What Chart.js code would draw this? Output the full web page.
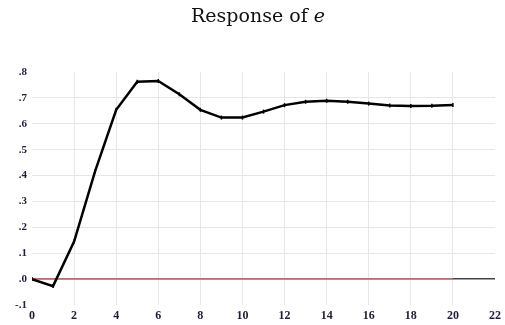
<!DOCTYPE html>
<html>
<head>
<meta charset="utf-8">
<script src="https://cdn.jsdelivr.net/npm/chart.js@4"></script>
<style>
  html, body { margin: 0; padding: 0; background: #ffffff; }
  #wrap { width: 505px; height: 325px; }
</style>
</head>
<body>
<div id="wrap"><canvas id="chart-area"></canvas></div>
<script>
var periods = [0, 1, 2, 3, 4, 5, 6, 7, 8, 9, 10, 11, 12, 13, 14, 15, 16, 17, 18, 19, 20];
var response = [0, -0.027, 0.145, 0.417, 0.654, 0.762, 0.765, 0.714, 0.654, 0.624, 0.624,
                0.647, 0.672, 0.685, 0.689, 0.685, 0.678, 0.671, 0.669, 0.670, 0.673];
var zeroLine = [0, 0];
var titleText = 'Response of ';
var titleVar = 'e';

var labelColor = '#1e1e38';
var xTickFont = { family: 'Liberation Serif', size: 12, weight: 'bold' };
var yTickFont = { family: 'Liberation Serif', size: 11, weight: 'bold' };

// response points as x/y pairs
var points = [];
for (var i = 0; i < periods.length; i++) {
    points.push({ x: periods[i], y: response[i] });
}
var zeroPoints = [
    { x: periods[0], y: zeroLine[0] },
    { x: periods[periods.length - 1], y: zeroLine[1] }
];

function fmtY(v) {
    var n = Math.round(v * 10);
    if (n === 0) return '.0';
    if (n < 0) return '-.' + (-n);
    return '.' + n;
}

// title with italic variable name
var titlePlugin = {
    id: 'mixedTitle',
    afterDraw: function (chart) {
        var ctx = chart.ctx;
        ctx.save();
        ctx.fillStyle = '#111111';
        ctx.textBaseline = 'alphabetic';
        var f1 = '19px "DejaVu Serif"';
        var f2 = 'italic 19px "DejaVu Serif"';
        ctx.font = f1;
        var w1 = ctx.measureText(titleText).width;
        ctx.font = f2;
        var w2 = ctx.measureText(titleVar).width;
        var x = 258 - (w1 + w2) / 2;
        ctx.font = f1;
        ctx.textAlign = 'left';
        ctx.fillText(titleText, x, 22);
        ctx.font = f2;
        ctx.fillText(titleVar, x + w1, 22);
        ctx.restore();
    }
};

var config = {
    type: 'line',
    data: {
        datasets: [{
            data: points,
            borderColor: '#000000',
            backgroundColor: '#000000',
            borderWidth: 2.5,
            pointStyle: 'line',
            rotation: 90,
            pointRadius: 2,
            pointBorderWidth: 1.5,
            tension: 0,
            order: 1
        }, {
            data: zeroPoints,
            borderColor: '#e07a7a',
            borderWidth: 1.5,
            pointRadius: 0,
            order: 2
        }]
    },
    options: {
        responsive: true,
        maintainAspectRatio: false,
        animation: false,
        layout: { padding: { top: 72, right: 8, left: 0, bottom: 0 } },
        plugins: {
            legend: { display: false },
            title: { display: false },
            tooltip: { enabled: false }
        },
        scales: {
            x: {
                type: 'linear',
                min: 0,
                max: 22,
                border: { display: false },
                grid: {
                    drawTicks: false,
                    color: function (c) {
                        if (c.tick && (c.tick.value === 0 || c.tick.value === 22)) return 'rgba(0,0,0,0)';
                        return '#e6e6e6';
                    }
                },
                ticks: { stepSize: 2, padding: 4, color: labelColor, font: xTickFont, maxRotation: 0 },
                afterFit: function (scale) { scale.height = 20; }
            },
            y: {
                min: -0.1,
                max: 0.8,
                border: { display: false },
                grid: {
                    drawTicks: false,
                    color: function (c) {
                        if (!c.tick) return '#e6e6e6';
                        var n = Math.round(c.tick.value * 10);
                        if (n === 0) return '#444444';
                        if (n === 8 || n === -1) return 'rgba(0,0,0,0)';
                        return '#e6e6e6';
                    },
                    lineWidth: function (c) {
                        if (c.tick && Math.round(c.tick.value * 10) === 0) return 1.5;
                        return 1;
                    }
                },
                ticks: {
                    stepSize: 0.1,
                    padding: 5,
                    color: labelColor,
                    font: yTickFont,
                    callback: function (v) { return fmtY(v); }
                },
                afterFit: function (scale) { scale.width = 32; }
            }
        }
    },
    plugins: [titlePlugin]
};

var ctx = document.getElementById('chart-area').getContext('2d');
window.myLine = new Chart(ctx, config);
</script>
</body>
</html>
